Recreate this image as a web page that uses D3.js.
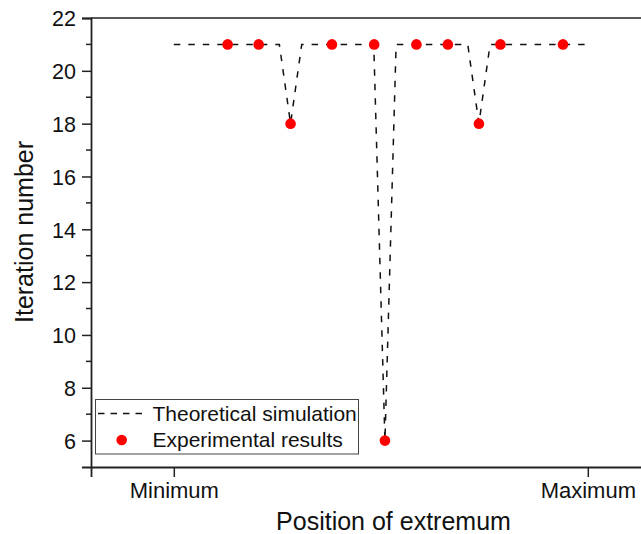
<!DOCTYPE html>
<html>
<head>
<meta charset="utf-8">
<script src="https://cdn.jsdelivr.net/npm/d3@7"></script>
<style>
  body { margin: 0; background: #fff; }
  svg text { font-family: "Liberation Sans", Arial, sans-serif; fill: #111; }
</style>
</head>
<body>
<svg id="ch" width="641" height="534"></svg>
<script>
// position on the x axis: 0 = Minimum, 1 = Maximum
var theoX = [0, 0.255, 0.282, 0.309, 0.483, 0.510, 0.537, 0.710, 0.737, 0.764, 1.0];
var theoY = [21, 21, 18, 21, 21, 6, 21, 21, 18, 21, 21];

var expX = [0.130, 0.205, 0.282, 0.382, 0.484, 0.510, 0.586, 0.662, 0.737, 0.789, 0.940];
var expY = [21, 21, 18, 21, 21, 6, 21, 21, 18, 21, 21];

var xTickVals = [0, 1];
var xTickLabels = ["Minimum", "Maximum"];
var yTickVals = [6, 8, 10, 12, 14, 16, 18, 20, 22];
var yMinorVals = [7, 9, 11, 13, 15, 17, 19, 21];

var svg = d3.select("#ch");

var x = d3.scaleLinear().domain([-0.2, 1.2]).range([91, 670.6]);
var y = d3.scaleLinear().domain([5, 22]).range([467, 18]);

// frame: top line, (right side is outside the picture)
svg.append("line")
    .attr("x1", x(-0.2)).attr("x2", x(1.2))
    .attr("y1", y(22)).attr("y2", y(22))
    .style("stroke", "#222").style("stroke-width", 1.5);

// y axis
var yAxis = d3.axisLeft(y).tickValues(yTickVals).tickSize(9).tickPadding(6);
var gy = svg.append("g").attr("transform", "translate(" + x(-0.2) + ",0)").call(yAxis);
gy.select(".domain").style("stroke", "#222").style("stroke-width", 1.8);
gy.selectAll(".tick line").style("stroke", "#222").style("stroke-width", 1.5);
gy.selectAll(".tick text").style("font-size", "21.5px").attr("dy", "0.36em");
gy.selectAll(".minor").data(yMinorVals).enter().append("line")
    .attr("class", "minor")
    .attr("x1", -5).attr("x2", 0)
    .attr("y1", function (d) { return y(d); })
    .attr("y2", function (d) { return y(d); })
    .style("stroke", "#222").style("stroke-width", 1.5);

// x axis
var xAxis = d3.axisBottom(x).tickValues(xTickVals)
    .tickFormat(function (d, i) { return xTickLabels[i]; })
    .tickSize(10).tickPadding(5);
var gx = svg.append("g").attr("transform", "translate(0," + y(5) + ")").call(xAxis);
gx.select(".domain").style("stroke", "#222").style("stroke-width", 1.8);
gx.selectAll(".tick line").style("stroke", "#222").style("stroke-width", 1.5);
gx.selectAll(".tick text").style("font-size", "22px").attr("dy", "0.72em");

// axis titles
svg.append("text")
    .attr("transform", "translate(33,232) rotate(-90)")
    .attr("text-anchor", "middle")
    .style("font-size", "25px")
    .text("Iteration number");
svg.append("text")
    .attr("x", 393.5).attr("y", 530)
    .attr("text-anchor", "middle")
    .style("font-size", "25px")
    .text("Position of extremum");

// theoretical simulation
var theo = theoX.map(function (d, i) { return {x: d, y: theoY[i]}; });
var line = d3.line()
    .x(function (d) { return x(d.x); })
    .y(function (d) { return y(d.y); });
svg.append("path")
    .attr("d", line(theo))
    .style("fill", "none")
    .style("stroke", "#111")
    .style("stroke-width", 1.5)
    .style("stroke-dasharray", "6.5,8");

// experimental results
var exp = expX.map(function (d, i) { return {x: d, y: expY[i]}; });
svg.selectAll(".dot").data(exp).enter().append("circle")
    .attr("class", "dot")
    .attr("cx", function (d) { return x(d.x); })
    .attr("cy", function (d) { return y(d.y); })
    .attr("r", 5.3)
    .style("fill", "#ff0000");

// legend
var lg = svg.append("g");
lg.append("rect")
    .attr("x", 95.5).attr("y", 399.5)
    .attr("width", 263).attr("height", 54.5)
    .style("fill", "#fff").style("stroke", "#444").style("stroke-width", 1);
lg.append("line")
    .attr("x1", 98).attr("x2", 147).attr("y1", 413.5).attr("y2", 413.5)
    .style("stroke", "#111").style("stroke-width", 1.5)
    .style("stroke-dasharray", "6.5,6");
lg.append("text").attr("x", 152.5).attr("y", 420.5)
    .style("font-size", "21px").text("Theoretical simulation");
lg.append("circle").attr("cx", 121.7).attr("cy", 440).attr("r", 5.3)
    .style("fill", "#ff0000");
lg.append("text").attr("x", 152.5).attr("y", 447)
    .style("font-size", "21px").text("Experimental results");
</script>
</body>
</html>
